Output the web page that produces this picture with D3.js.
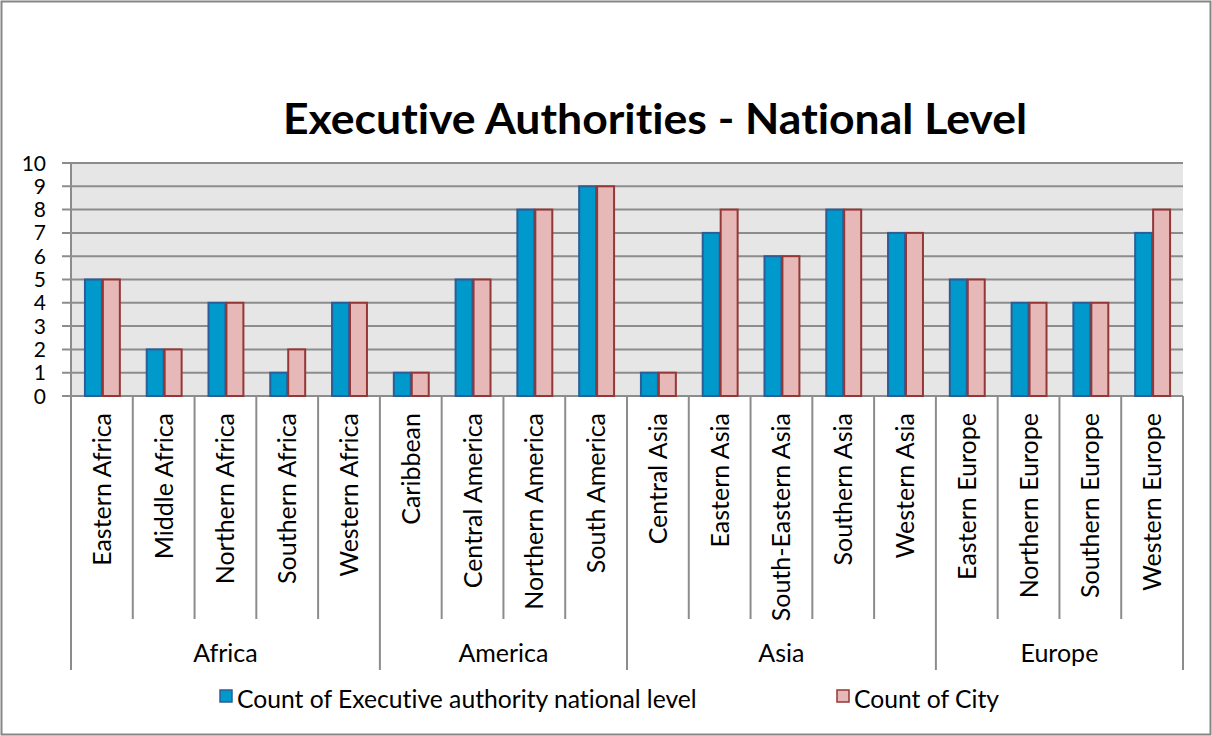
<!DOCTYPE html>
<html><head><meta charset="utf-8">
<script src="https://cdn.jsdelivr.net/npm/d3@7/dist/d3.min.js"></script>
<style>
body{margin:0;background:#fff;}
svg text{font-family:Lato,"Open Sans",sans-serif;font-variant-ligatures:none;}
</style></head>
<body><svg id="c" width="1212" height="736"></svg>
<script>
const categories = ["Eastern Africa","Middle Africa","Northern Africa","Southern Africa","Western Africa",
  "Caribbean","Central America","Northern America","South America",
  "Central Asia","Eastern Asia","South-Eastern Asia","Southern Asia","Western Asia",
  "Eastern Europe","Northern Europe","Southern Europe","Western Europe"];
const groups = ["Africa","America","Asia","Europe"];
const groupSizes = [5,4,5,4];
const execValues = [5,2,4,1,4, 1,5,8,9, 1,7,6,8,7, 5,4,4,7];
const cityValues = [5,2,4,2,4, 1,5,8,9, 1,8,6,8,7, 5,4,4,8];
const seriesNames = ["Count of Executive authority national level","Count of City"];
const yTicks = [0,1,2,3,4,5,6,7,8,9,10];

const svg = d3.select("#c");
const L = 71, R = 1183, T = 163, B = 396;
const fill = ["#0099cc","#e6b9b8"], stroke = ["#2c5d97","#953735"];

svg.append("rect").attr("x",1.5).attr("y",1.5).attr("width",1209).attr("height",733)
  .attr("fill","#fff").attr("stroke","#868686").attr("stroke-width",2);

const x = d3.scaleBand().domain(categories).range([L,R]).paddingInner(0).paddingOuter(0);
const xs = d3.scaleBand().domain([0,1]).range([0,x.bandwidth()]).paddingInner(0).paddingOuter(0.72);
const y = d3.scaleLinear().domain([0,10]).range([B,T]);

svg.append("rect").attr("x",L).attr("y",T).attr("width",R-L).attr("height",B-T).attr("fill","#e6e6e6");

// gridlines + ticks
svg.append("g").selectAll("line").data(yTicks).join("line")
  .attr("x1",62).attr("x2",R).attr("y1",d=>y(d)).attr("y2",d=>y(d))
  .attr("stroke","#8c8c8c").attr("stroke-width",2);
svg.append("g").selectAll("text").data(yTicks).join("text")
  .attr("x",46).attr("y",d=>y(d)).attr("dy","0.36em").attr("text-anchor","end")
  .attr("font-size",21).attr("fill","#000").text(d=>d);
svg.append("line").attr("x1",L).attr("x2",L).attr("y1",T).attr("y2",B).attr("stroke","#8c8c8c").attr("stroke-width",2);

// bars
const series = [execValues, cityValues];
series.forEach((vals,si)=>{
  svg.append("g").selectAll("rect").data(categories).join("rect")
    .attr("x",(d)=>x(d)+xs(si)+1)
    .attr("width",xs.bandwidth()-1)
    .attr("y",(d,i)=>y(vals[i]))
    .attr("height",(d,i)=>B-y(vals[i]))
    .attr("fill",fill[si]).attr("stroke",stroke[si]).attr("stroke-width",2);
});

// category separators
const bounds = categories.map((c)=>x(c)).concat([R]);
let gStarts = [0]; groupSizes.forEach((s,i)=>gStarts.push(gStarts[i]+s));
const gBoundIdx = new Set(gStarts);
svg.append("g").selectAll("line").data(bounds).join("line")
  .attr("x1",d=>d).attr("x2",d=>d).attr("y1",B)
  .attr("y2",(d,i)=>gBoundIdx.has(i)?670:619)
  .attr("stroke","#8c8c8c").attr("stroke-width",2);

// category labels
svg.append("g").selectAll("text").data(categories).join("text")
  .attr("transform",d=>`translate(${x(d)+x.bandwidth()/2+9},413) rotate(-90)`)
  .attr("text-anchor","end").attr("font-size",25).attr("fill","#000").text(d=>d);

// group labels
svg.append("g").selectAll("text").data(groups).join("text")
  .attr("x",(d,i)=>(bounds[gStarts[i]]+bounds[gStarts[i+1]])/2)
  .attr("y",662).attr("text-anchor","middle").attr("font-size",25).attr("fill","#000").text(d=>d);

// title
svg.append("text").attr("x",655).attr("y",134).attr("text-anchor","middle")
  .attr("font-size",42).attr("font-weight","bold").attr("fill","#000")
  .attr("textLength",744).attr("lengthAdjust","spacingAndGlyphs")
  .text("Executive Authorities - National Level");

// legend
const lx = [219, 836];
seriesNames.forEach((n,i)=>{
  svg.append("rect").attr("x",lx[i]+1).attr("y",690).attr("width",12).attr("height",12)
    .attr("fill",fill[i]).attr("stroke",stroke[i]).attr("stroke-width",1.5);
  svg.append("text").attr("x",lx[i]+18).attr("y",708).attr("font-size",24.7).attr("fill","#000").text(n);
});
</script></body></html>
